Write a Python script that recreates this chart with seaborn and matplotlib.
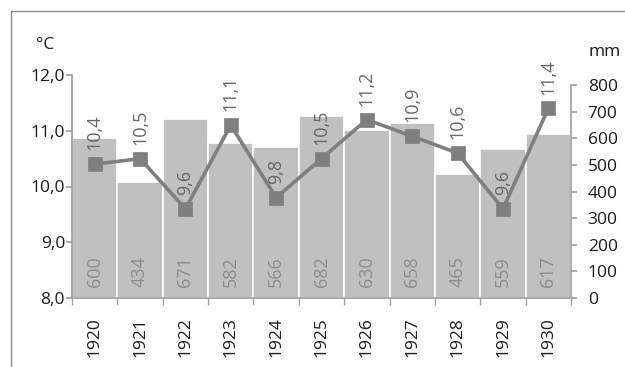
import matplotlib
matplotlib.use("Agg")
import matplotlib.pyplot as plt
from matplotlib.lines import Line2D
from matplotlib.ticker import FixedLocator
import seaborn as sns
import pandas as pd

years = ["1920", "1921", "1922", "1923", "1924", "1925", "1926", "1927", "1928", "1929", "1930"]
temperature = [10.4, 10.5, 9.6, 11.1, 9.8, 10.5, 11.2, 10.9, 10.6, 9.6, 11.4]
precipitation = [600, 434, 671, 582, 566, 682, 630, 658, 465, 559, 617]
temp_ticks = [8.0, 9.0, 10.0, 11.0, 12.0]
mm_ticks = [0, 100, 200, 300, 400, 500, 600, 700, 800]

df = pd.DataFrame({"year": years, "temp": temperature, "mm": precipitation})

sns.set_theme(style="white")
plt.rcParams["font.family"] = ["Open Sans", "DejaVu Sans"]

W, H = 625, 367
fig = plt.figure(figsize=(W / 100, H / 100), dpi=100, frameon=False)

# outer chart frame (left and top edges)
frame_kw = dict(transform=fig.transFigure, color="#8c8c8c", linewidth=1.0)
fig.add_artist(Line2D([10.5 / W, 10.5 / W], [0, 1 - 10.5 / H], **frame_kw))
fig.add_artist(Line2D([10.5 / W, 1], [1 - 10.5 / H, 1 - 10.5 / H], **frame_kw))

left, right = 72 / W, 571 / W
bottom, top = 1 - 298 / H, 1 - 75 / H
ax = fig.add_axes([left, bottom, right - left, top - bottom])
ax2 = ax.twinx()

bar_color = "#c0c0c0"
line_color = "#7f7f7f"
spine_color = "#a0a0a0"
text_color = "#1a1a1a"

# precipitation bars on the right axis
sns.barplot(data=df, x="year", y="mm", ax=ax2, color=bar_color, width=1.0,
            saturation=1, edgecolor="white", linewidth=1.2)
# temperature line on the left axis
sns.pointplot(data=df, x="year", y="temp", ax=ax, color=line_color,
              markers="s", markersize=8, linewidth=2.6)

ax.set_zorder(ax2.get_zorder() + 1)
ax.patch.set_visible(False)

ax.set_xlim(-0.5, len(years) - 0.5)
ax.set_ylim(8.0, 12.0)
mm_top = 800 * (298 - 75) / (298 - 85)
ax2.set_ylim(0, mm_top)

for a in (ax, ax2):
    for s in a.spines.values():
        s.set_visible(False)
    a.set_xlabel("")
    a.set_ylabel("")

ax.spines["left"].set_visible(True)
ax.spines["left"].set_bounds(8.0, 12.0)
ax.spines["left"].set_color(spine_color)
ax.spines["bottom"].set_visible(True)
ax.spines["bottom"].set_color(spine_color)
ax2.spines["right"].set_visible(True)
ax2.spines["right"].set_bounds(0, 800)
ax2.spines["right"].set_color(spine_color)

tick_fs = 12.5
ax.set_yticks(temp_ticks)
ax.set_yticklabels([f"{v:.1f}".replace(".", ",") for v in temp_ticks], fontsize=tick_fs)
ax2.set_yticks(mm_ticks)
ax2.set_yticklabels([str(v) for v in mm_ticks], fontsize=tick_fs)
ax.tick_params(axis="y", left=True, length=4, color=spine_color, pad=1, labelcolor=text_color)
ax2.tick_params(axis="y", right=True, length=4, color=spine_color, pad=8, labelcolor=text_color)

ax.set_xticks(range(len(years)))
ax.set_xticklabels(years, rotation=90, fontsize=tick_fs, color=text_color)
ax.tick_params(axis="x", which="major", length=0, pad=14)
ax.xaxis.set_minor_locator(FixedLocator([i - 0.5 for i in range(len(years) + 1)]))
ax.tick_params(axis="x", which="minor", bottom=True, length=5, color=spine_color)
ax2.tick_params(axis="x", bottom=False, labelbottom=False)

# value labels
for i, (t, p) in enumerate(zip(temperature, precipitation)):
    ax.annotate(f"{t:.1f}".replace(".", ","), (i, t), xytext=(0, 10),
                textcoords="offset points", rotation=90, ha="center", va="bottom",
                fontsize=13, color="#666666", zorder=5)
    ax2.annotate(str(p), (i, 0), xytext=(0, 8), textcoords="offset points",
                 rotation=90, ha="center", va="bottom", fontsize=13,
                 color="#8c8c8c")

fig.text(45 / W, 1 - 45 / H, "°C", ha="center", va="center", fontsize=tick_fs, color=text_color)
fig.text(605 / W, 1 - 52 / H, "mm", ha="center", va="center", fontsize=tick_fs, color=text_color)

fig.savefig("out.png", dpi=100, facecolor="white")
